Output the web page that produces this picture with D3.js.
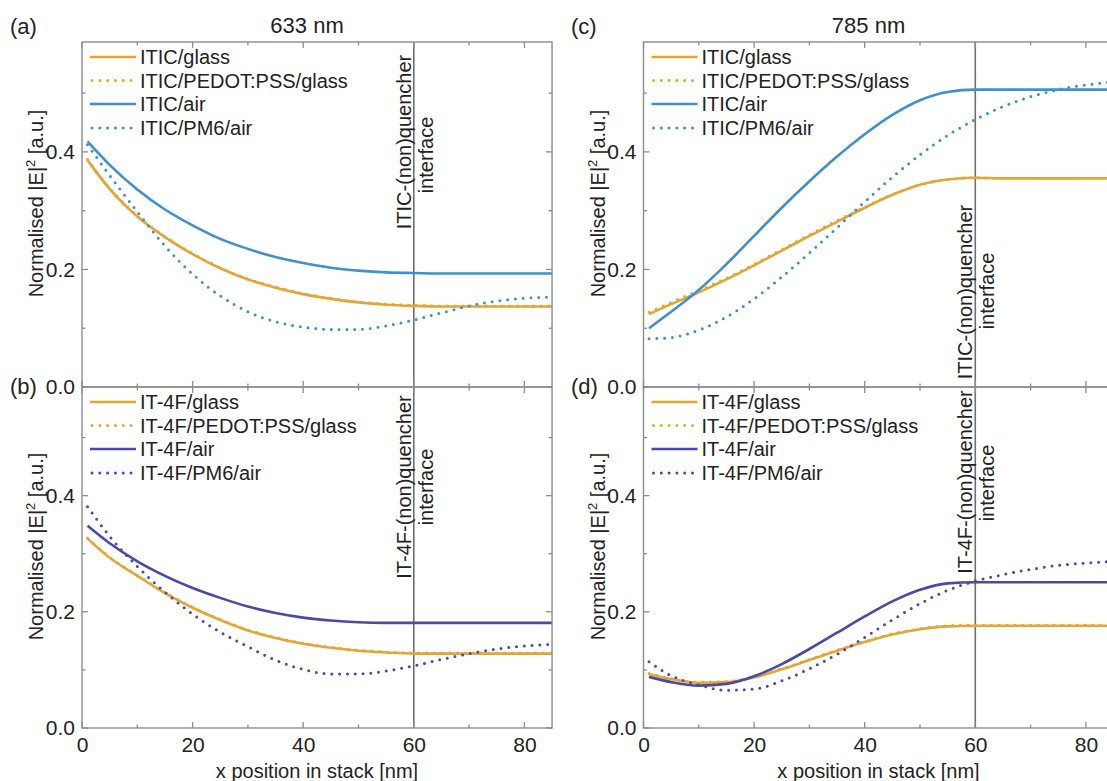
<!DOCTYPE html>
<html>
<head>
<meta charset="utf-8">
<script src="https://cdn.jsdelivr.net/npm/d3@7"></script>
<style>
  html, body { margin: 0; padding: 0; background: #fff; }
  svg { display: block; font-family: "Liberation Sans", Arial, sans-serif; }
</style>
</head>
<body>
<svg id="chart" width="1107" height="781"></svg>
<script>
// ---------------- DATA ----------------
const xPos = [1, 5, 10, 15, 20, 25, 30, 35, 40, 45, 50, 55, 60, 65, 70, 75, 80, 85];

// (a) 633 nm, ITIC
const a_glass  = [0.386, 0.337, 0.290, 0.255, 0.226, 0.202, 0.183, 0.169, 0.158, 0.150, 0.144, 0.140, 0.138, 0.137, 0.137, 0.137, 0.137, 0.137];
const a_pedot  = [0.387, 0.338, 0.291, 0.256, 0.227, 0.203, 0.184, 0.170, 0.159, 0.151, 0.145, 0.141, 0.139, 0.138, 0.138, 0.138, 0.138, 0.138];
const a_air    = [0.418, 0.378, 0.336, 0.302, 0.275, 0.252, 0.235, 0.221, 0.211, 0.203, 0.198, 0.195, 0.194, 0.193, 0.193, 0.193, 0.193, 0.193];
const a_pm6    = [0.412, 0.360, 0.298, 0.240, 0.192, 0.155, 0.128, 0.111, 0.102, 0.098, 0.098, 0.104, 0.114, 0.126, 0.138, 0.146, 0.151, 0.153];

// (b) 633 nm, IT-4F
const b_glass  = [0.326, 0.293, 0.262, 0.232, 0.207, 0.186, 0.168, 0.155, 0.145, 0.138, 0.133, 0.130, 0.128, 0.128, 0.128, 0.128, 0.128, 0.128];
const b_pedot  = [0.327, 0.294, 0.263, 0.233, 0.208, 0.187, 0.169, 0.156, 0.146, 0.139, 0.134, 0.131, 0.129, 0.129, 0.129, 0.129, 0.129, 0.129];
const b_air    = [0.348, 0.318, 0.287, 0.262, 0.241, 0.224, 0.209, 0.198, 0.190, 0.185, 0.182, 0.181, 0.181, 0.181, 0.181, 0.181, 0.181, 0.181];
const b_pm6    = [0.381, 0.330, 0.278, 0.234, 0.196, 0.165, 0.140, 0.117, 0.101, 0.093, 0.093, 0.098, 0.107, 0.118, 0.128, 0.136, 0.141, 0.144];

// (c) 785 nm, ITIC
const c_glass  = [0.124, 0.141, 0.161, 0.183, 0.207, 0.232, 0.257, 0.281, 0.305, 0.327, 0.344, 0.353, 0.356, 0.355, 0.355, 0.355, 0.355, 0.355];
const c_pedot  = [0.127, 0.144, 0.164, 0.185, 0.209, 0.234, 0.259, 0.283, 0.306, 0.327, 0.344, 0.353, 0.356, 0.355, 0.355, 0.355, 0.355, 0.355];
const c_air    = [0.100, 0.128, 0.165, 0.209, 0.257, 0.305, 0.350, 0.392, 0.430, 0.463, 0.488, 0.502, 0.506, 0.506, 0.506, 0.506, 0.506, 0.506];
const c_pm6    = [0.082, 0.084, 0.097, 0.119, 0.150, 0.187, 0.228, 0.271, 0.315, 0.357, 0.395, 0.428, 0.455, 0.477, 0.494, 0.506, 0.514, 0.519];

// (d) 785 nm, IT-4F
const d_glass  = [0.093, 0.084, 0.078, 0.079, 0.087, 0.101, 0.117, 0.133, 0.148, 0.161, 0.170, 0.175, 0.176, 0.176, 0.176, 0.176, 0.176, 0.176];
const d_pedot  = [0.094, 0.085, 0.079, 0.080, 0.088, 0.102, 0.118, 0.134, 0.149, 0.162, 0.171, 0.176, 0.177, 0.177, 0.177, 0.177, 0.177, 0.177];
const d_air    = [0.088, 0.079, 0.073, 0.076, 0.089, 0.110, 0.136, 0.164, 0.192, 0.218, 0.238, 0.249, 0.251, 0.251, 0.251, 0.251, 0.251, 0.251];
const d_pm6    = [0.114, 0.090, 0.074, 0.065, 0.067, 0.081, 0.102, 0.127, 0.156, 0.186, 0.214, 0.237, 0.253, 0.264, 0.273, 0.280, 0.284, 0.287];

const namesITIC = ["ITIC/glass", "ITIC/PEDOT:PSS/glass", "ITIC/air", "ITIC/PM6/air"];
const namesIT4F = ["IT-4F/glass", "IT-4F/PEDOT:PSS/glass", "IT-4F/air", "IT-4F/PM6/air"];
const panelLetters = ["(a)", "(b)", "(c)", "(d)"];
const wavelengths = ["633 nm", "785 nm"];
const interfaceLabels = ["ITIC-(non)quencher", "IT-4F-(non)quencher"];
const xTicks = [0, 20, 40, 60, 80];
const xMinor = [10, 30, 50, 70];
const yTicks = [0, 0.2, 0.4];
const yMinor = [0.1, 0.3, 0.5];
const interfaceX = 60;
const xDomain = [0, 85];
const yDomain = [0, 0.587];

// ---------------- STYLE / LAYOUT ----------------
const ORANGE = "#E3A634", BLUE = "#3F90CC", PURPLE = "#4A49A8";
const AXIS = "#8c8c8c";
const FS = 20;

const svg = d3.select("#chart");
svg.append("rect").attr("width", 1107).attr("height", 781).attr("fill", "#fff");

const panels = [
  { letter: panelLetters[0], left: 82,    top: 42,  bottom: 387, names: namesITIC, series: [a_glass, a_pedot, a_air, a_pm6], air: BLUE,   iface: interfaceLabels[0], xLabels: false, ifaceY: [142, 155] },
  { letter: panelLetters[1], left: 82,    top: 387, bottom: 728, names: namesIT4F, series: [b_glass, b_pedot, b_air, b_pm6], air: PURPLE, iface: interfaceLabels[1], xLabels: true,  ifaceY: [487, 487] },
  { letter: panelLetters[2], left: 643.5, top: 42,  bottom: 387, names: namesITIC, series: [c_glass, c_pedot, c_air, c_pm6], air: BLUE,   iface: interfaceLabels[0], xLabels: false, ifaceY: [292, 291] },
  { letter: panelLetters[3], left: 643.5, top: 387, bottom: 728, names: namesIT4F, series: [d_glass, d_pedot, d_air, d_pm6], air: PURPLE, iface: interfaceLabels[1], xLabels: true,  ifaceY: [482, 483] }
];
const pxPerUnit = 5.53;

panels.forEach((p, i) => {
  const x = d3.scaleLinear().domain(xDomain).range([p.left, p.left + pxPerUnit * (xDomain[1] - xDomain[0])]);
  const y = d3.scaleLinear().domain(yDomain).range([p.bottom, p.top]);
  const g = svg.append("g");
  const clipId = "clip" + i;
  svg.append("clipPath").attr("id", clipId).append("rect")
    .attr("x", x.range()[0]).attr("y", p.top).attr("width", x.range()[1] - x.range()[0]).attr("height", p.bottom - p.top);

  // interface line
  g.append("line").attr("x1", x(interfaceX)).attr("x2", x(interfaceX)).attr("y1", p.top).attr("y2", p.bottom)
    .attr("stroke", "#6f6f6f").attr("stroke-width", 1.6);

  // series
  const line = d3.line().x((d, k) => x(xPos[k])).y(d => y(d)).curve(d3.curveMonotoneX);
  const colors = [ORANGE, ORANGE, p.air, p.air];
  const dotted = [false, true, false, true];
  const lg = g.append("g").attr("clip-path", `url(#${clipId})`);
  p.series.forEach((s, k) => {
    const path = lg.append("path").datum(s).attr("d", line).attr("fill", "none")
      .attr("stroke", colors[k]).attr("stroke-width", dotted[k] ? 3 : 2.6);
    if (dotted[k]) path.attr("stroke-dasharray", "0,7.8").attr("stroke-linecap", "round");
  });

  // frame
  const xr = x.range();
  g.append("rect").attr("x", xr[0]).attr("y", p.top).attr("width", xr[1] - xr[0]).attr("height", p.bottom - p.top)
    .attr("fill", "none").attr("stroke", AXIS).attr("stroke-width", 1.4);

  // ticks (inward, all four sides)
  const tk = (vals, len) => {
    vals.forEach(v => {
      g.append("line").attr("x1", x(v)).attr("x2", x(v)).attr("y1", p.bottom).attr("y2", p.bottom - len).attr("stroke", AXIS).attr("stroke-width", 1.3);
      g.append("line").attr("x1", x(v)).attr("x2", x(v)).attr("y1", p.top).attr("y2", p.top + len).attr("stroke", AXIS).attr("stroke-width", 1.3);
    });
  };
  tk(xTicks, 6); tk(xMinor, 3.5);
  const tky = (vals, len) => {
    vals.forEach(v => {
      g.append("line").attr("x1", xr[0]).attr("x2", xr[0] + len).attr("y1", y(v)).attr("y2", y(v)).attr("stroke", AXIS).attr("stroke-width", 1.3);
      g.append("line").attr("x1", xr[1]).attr("x2", xr[1] - len).attr("y1", y(v)).attr("y2", y(v)).attr("stroke", AXIS).attr("stroke-width", 1.3);
    });
  };
  tky(yTicks, 6); tky(yMinor, 3.5);

  // y tick labels via axis
  const ya = d3.axisLeft(y).tickValues(yTicks).tickFormat(d3.format(".1f")).tickSize(0).tickPadding(7);
  const yg = g.append("g").attr("transform", `translate(${xr[0]},0)`).call(ya);
  yg.select(".domain").remove();
  yg.selectAll("text").attr("font-size", FS + 1).attr("fill", "#222").attr("font-family", "Liberation Sans, Arial, sans-serif");

  if (p.xLabels) {
    const xa = d3.axisBottom(x).tickValues(xTicks).tickFormat(d3.format("d")).tickSize(0).tickPadding(9);
    const xg = g.append("g").attr("transform", `translate(0,${p.bottom})`).call(xa);
    xg.select(".domain").remove();
    xg.selectAll("text").attr("font-size", FS + 1).attr("fill", "#222").attr("font-family", "Liberation Sans, Arial, sans-serif");
    g.append("text").attr("x", (x(0) + x(85)) / 2).attr("y", 778).attr("text-anchor", "middle")
      .attr("font-size", FS).attr("fill", "#222").text("x position in stack [nm]");
  }

  // y-axis title
  const cy = (p.top + p.bottom) / 2 - 11;
  const yt = g.append("text").attr("transform", `translate(${xr[0] - 39},${cy}) rotate(-90)`)
    .attr("text-anchor", "middle").attr("font-size", FS).attr("fill", "#222");
  yt.append("tspan").text("Normalised |E|");
  yt.append("tspan").attr("dy", -8).attr("font-size", 13).text("2");
  yt.append("tspan").attr("dy", 8).text(" [a.u.]");

  // interface labels
  const ix = x(interfaceX);
  g.append("text").attr("transform", `translate(${ix - 3},${p.ifaceY[0]}) rotate(-90)`).attr("text-anchor", "middle")
    .attr("font-size", FS).attr("fill", "#222").text(p.iface);
  g.append("text").attr("transform", `translate(${ix + 19},${p.ifaceY[1]}) rotate(-90)`).attr("text-anchor", "middle")
    .attr("font-size", FS).attr("fill", "#222").text("interface");

  // legend
  const rows = [15, 38.5, 62, 86];
  p.names.forEach((n, k) => {
    const ly = p.top + rows[k];
    const l = g.append("line").attr("x1", xr[0] + 8).attr("x2", xr[0] + 54).attr("y1", ly).attr("y2", ly)
      .attr("stroke", colors[k]).attr("stroke-width", dotted[k] ? 3 : 2.6);
    if (dotted[k]) l.attr("stroke-dasharray", "0,7.8").attr("stroke-linecap", "round").attr("x1", xr[0] + 10);
    g.append("text").attr("x", xr[0] + 58).attr("y", ly + 7).attr("font-size", FS).attr("fill", "#222").text(n);
  });

  // panel letter
  g.append("text").attr("x", i < 2 ? 10 : 571).attr("y", p.top === 42 ? 34 : 394)
    .attr("font-size", FS + 2).attr("fill", "#222").text(p.letter);
  if (p.top === 42) {
    g.append("text").attr("x", (x(0) + x(85)) / 2 - 10).attr("y", 33).attr("text-anchor", "middle")
      .attr("font-size", FS + 2).attr("fill", "#222").text(wavelengths[i < 2 ? 0 : 1]);
  }
});
</script>
</body>
</html>
